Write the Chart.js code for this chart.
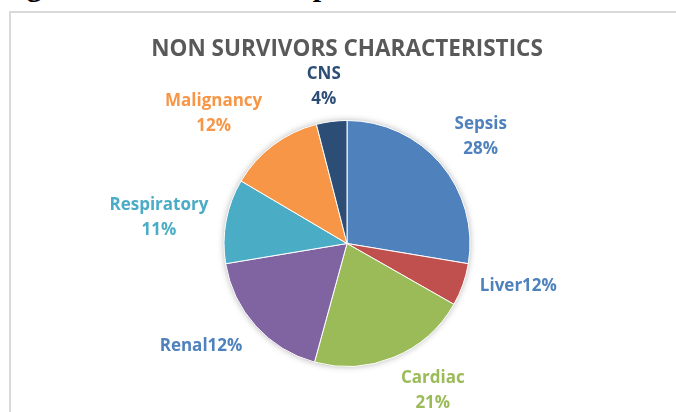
<!DOCTYPE html>
<html>
<head>
<meta charset="utf-8">
<script src="https://cdn.jsdelivr.net/npm/chart.js@4.4.1/dist/chart.umd.min.js"></script>
<style>
  html, body { margin: 0; padding: 0; background: #fff; overflow: hidden; }
  body { width: 676px; height: 412px; position: relative; }
  #caption { position: absolute; left: 0; top: -29px; font: bold 30px "Liberation Serif"; line-height: 30px; white-space: nowrap; color: #000; }
  #frame { position: absolute; left: 9px; top: 11px; width: 720px; height: 460px; border: 2px solid #d9d9d9; }
  #wrap { position: absolute; left: 0; top: 0; width: 676px; height: 412px; }
</style>
</head>
<body>
<div id="caption">Figure 2: Non survivors profile</div>
<div id="frame"></div>
<div id="wrap"><canvas id="pieChart"></canvas></div>
<script>
// slice sizes (the printed labels are as in the original)
const categories = ["Sepsis", "Liver", "Cardiac", "Renal", "Respiratory", "Malignancy", "CNS"];
const shares = [27.6, 5.6, 21, 18.1, 11.1, 12.5, 4];
const labelText = [["Sepsis", "28%"], ["Liver12%"], ["Cardiac", "21%"], ["Renal12%"], ["Respiratory", "11%"], ["Malignancy", "12%"], ["CNS", "4%"]];

const sliceColors = ["#4F81BD", "#C0504D", "#9BBB59", "#8064A2", "#4BACC6", "#F79646", "#2C4D75"];
const labelColors = ["#4F81BD", "#4F81BD", "#9BBB59", "#4F81BD", "#4BACC6", "#F79646", "#2C4D75"];
// small vertical tweaks so labels sit where Excel's "best fit" put them
const labelNudgeY = [0, -9, -6, 0, 5, 3, 8];

const labelFont = "bold 17px 'Open Sans'";
const lineH = 25;
const gap = 18;

// soft shadow behind the pie, like the Excel original
const pieShadow = {
  id: "pieShadow",
  beforeDatasetsDraw(chart) {
    const arc = chart.getDatasetMeta(0).data[0];
    if (!arc) return;
    const p = arc.getProps(["x", "y", "outerRadius"], true);
    const ctx = chart.ctx;
    ctx.save();
    ctx.shadowColor = "rgba(0,0,0,0.35)";
    ctx.shadowBlur = 7;
    ctx.fillStyle = "#fff";
    ctx.beginPath();
    ctx.arc(p.x, p.y, p.outerRadius - 0.5, 0, Math.PI * 2);
    ctx.fill();
    ctx.restore();
  }
};

// labels outside each slice, pushed sideways by their width
const outsideLabels = {
  id: "outsideLabels",
  afterDatasetsDraw(chart) {
    const ctx = chart.ctx;
    const meta = chart.getDatasetMeta(0);
    ctx.save();
    ctx.font = labelFont;
    ctx.textAlign = "center";
    ctx.textBaseline = "middle";
    meta.data.forEach((arc, i) => {
      const p = arc.getProps(["x", "y", "startAngle", "endAngle", "outerRadius"], true);
      const mid = (p.startAngle + p.endAngle) / 2;
      const dx = Math.cos(mid);
      const dy = Math.sin(mid);
      const lines = labelText[i];
      const w = Math.max(...lines.map((t) => ctx.measureText(t).width));
      const h = lines.length * lineH;
      const r = p.outerRadius + gap;
      const side = Math.sign(dx) * Math.min(1, Math.abs(dx) * 2.6);
      const cx = p.x + dx * r + (side * w) / 2;
      const cy = p.y + dy * r + (dy * h) / 2 + labelNudgeY[i];
      ctx.fillStyle = labelColors[i];
      lines.forEach((t, k) => {
        ctx.fillText(t, cx, cy - h / 2 + lineH * (k + 0.5));
      });
    });
    ctx.restore();
  }
};

const ctx = document.getElementById("pieChart").getContext("2d");
new Chart(ctx, {
  type: "pie",
  data: {
    labels: categories,
    datasets: [
      {
        data: shares,
        backgroundColor: sliceColors,
        borderColor: "#fff",
        borderWidth: 1,
      },
    ],
  },
  options: {
    responsive: true,
    maintainAspectRatio: false,
    animation: false,
    layout: {
      padding: { left: 18, right: 0, top: 0, bottom: 45 },
    },
    plugins: {
      legend: { display: false },
      tooltip: { enabled: false },
      title: {
        display: true,
        text: "NON SURVIVORS CHARACTERISTICS",
        color: "#595959",
        font: { family: "'Open Sans'", size: 22.5, weight: "bold" },
        padding: { top: 36, bottom: 57 },
      },
    },
  },
  plugins: [pieShadow, outsideLabels],
});
</script>
</body>
</html>
